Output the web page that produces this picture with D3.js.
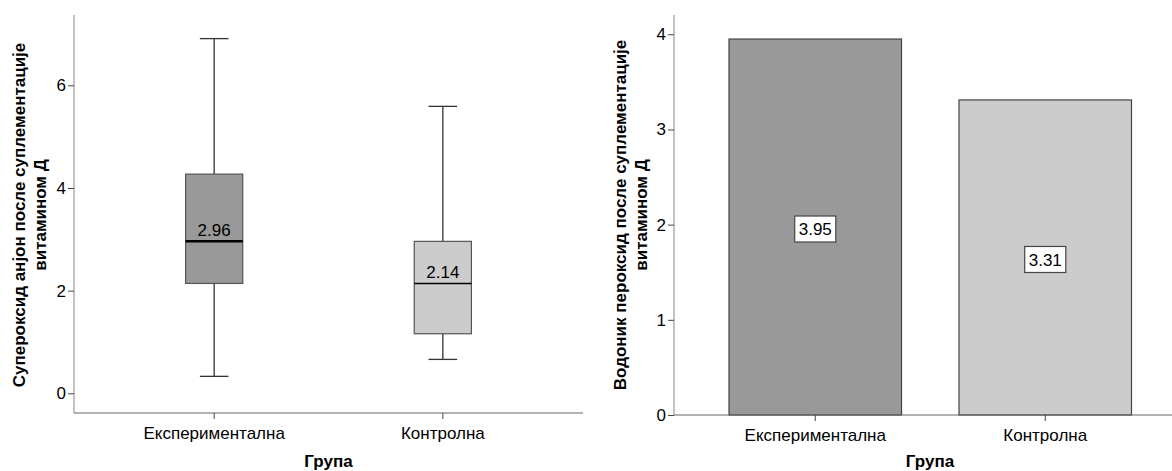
<!DOCTYPE html>
<html>
<head>
<meta charset="utf-8">
<script src="https://cdn.jsdelivr.net/npm/d3@7"></script>
<style>
  html, body { margin: 0; padding: 0; background: #ffffff; }
  svg { display: block; font-family: "Liberation Sans", Arial, sans-serif; }
</style>
</head>
<body>
<svg id="chart" width="1172" height="471"></svg>
<script>
// Groups
const categories = ["Експериментална", "Контролна"];

// Superoxide anion: box-plot five-number summaries per group
const boxMin    = [0.33, 0.66];
const boxQ1     = [2.14, 1.16];
const boxMedian = [2.96, 2.14];
const boxQ3     = [4.27, 2.96];
const boxMax    = [6.91, 5.59];

// Hydrogen peroxide: group means
const barMeans = [3.95, 3.31];

// Tick labels
const leftTicks  = [0, 2, 4, 6];
const rightTicks = [0, 1, 2, 3, 4];

const groupFill = ["#999999", "#cccccc"];

const svg = d3.select("#chart");
const FONT = 17;

function styleAxis(g) {
  g.selectAll(".tick line").attr("stroke", "#444").attr("stroke-width", 1);
  g.selectAll(".tick text").attr("fill", "#000").attr("font-size", FONT)
    .attr("font-family", "Liberation Sans, Arial, sans-serif");
}

function yTitle(x, yMid, lines) {
  const t = svg.append("text")
    .attr("transform", `translate(${x},${yMid}) rotate(-90)`)
    .attr("text-anchor", "middle")
    .attr("font-size", FONT).attr("font-weight", "bold").attr("fill", "#000");
  lines.forEach((s, i) => t.append("tspan").attr("x", 0).attr("dy", i === 0 ? 0 : 21).text(s));
}

// ---------- Left: box plot ----------
const L = { x0: 74, x1: 583, yTop: 15, yBot: 413 };
const xL = d3.scaleBand().domain(categories).range([L.x0, L.x1])
  .paddingInner(0.75).paddingOuter(0.488);
const yL = d3.scaleLinear().domain([-0.384, 7.37]).range([L.yBot, L.yTop]);

const gL = svg.append("g");
// axis lines
gL.append("line").attr("x1", L.x0).attr("x2", L.x0).attr("y1", L.yTop).attr("y2", L.yBot)
  .attr("stroke", "#999").attr("stroke-width", 1.2);
gL.append("line").attr("x1", L.x0).attr("x2", L.x1).attr("y1", L.yBot).attr("y2", L.yBot)
  .attr("stroke", "#666").attr("stroke-width", 1.2);

const axYL = gL.append("g").attr("transform", `translate(${L.x0},0)`)
  .call(d3.axisLeft(yL).tickValues(leftTicks).tickSize(6).tickPadding(2).tickFormat(d3.format("d")));
axYL.select(".domain").remove();
styleAxis(axYL);

const axXL = gL.append("g").attr("transform", `translate(0,${L.yBot})`)
  .call(d3.axisBottom(xL).tickSize(6).tickPadding(8));
axXL.select(".domain").remove();
styleAxis(axXL);

const boxes = gL.selectAll(".box").data(categories).enter().append("g");
boxes.each(function (c, i) {
  const g = d3.select(this);
  const bw = xL.bandwidth();
  const cx = xL(c) + bw / 2;
  const cap = bw / 2;
  // whiskers
  g.append("line").attr("x1", cx).attr("x2", cx).attr("y1", yL(boxMax[i])).attr("y2", yL(boxQ3[i]))
    .attr("stroke", "#333").attr("stroke-width", 1.3);
  g.append("line").attr("x1", cx).attr("x2", cx).attr("y1", yL(boxQ1[i])).attr("y2", yL(boxMin[i]))
    .attr("stroke", "#333").attr("stroke-width", 1.3);
  g.append("line").attr("x1", cx - cap / 2).attr("x2", cx + cap / 2).attr("y1", yL(boxMax[i])).attr("y2", yL(boxMax[i]))
    .attr("stroke", "#333").attr("stroke-width", 1.3);
  g.append("line").attr("x1", cx - cap / 2).attr("x2", cx + cap / 2).attr("y1", yL(boxMin[i])).attr("y2", yL(boxMin[i]))
    .attr("stroke", "#333").attr("stroke-width", 1.3);
  // box
  g.append("rect").attr("x", xL(c)).attr("width", bw)
    .attr("y", yL(boxQ3[i])).attr("height", yL(boxQ1[i]) - yL(boxQ3[i]))
    .attr("fill", groupFill[i]).attr("stroke", "#555").attr("stroke-width", 1.2);
  // median
  g.append("line").attr("x1", xL(c)).attr("x2", xL(c) + bw).attr("y1", yL(boxMedian[i])).attr("y2", yL(boxMedian[i]))
    .attr("stroke", "#000").attr("stroke-width", i === 0 ? 2.5 : 1.6);
  g.append("text").attr("x", cx).attr("y", yL(boxMedian[i]) - 5)
    .attr("text-anchor", "middle").attr("font-size", FONT).attr("fill", "#000")
    .text(d3.format(".2f")(boxMedian[i]));
});

yTitle(25, 215, ["Супероксид анјон после суплементације", "витамином Д"]);
svg.append("text").attr("x", (L.x0 + L.x1) / 2 - 0).attr("y", 467).attr("text-anchor", "middle")
  .attr("font-size", FONT).attr("font-weight", "bold").attr("fill", "#000").text("Група");

// ---------- Right: bar chart ----------
const R = { x0: 674, x1: 1172, yTop: 15, yBot: 415 };
const xR = d3.scaleBand().domain(categories).range([700.25, 1160.25])
  .paddingInner(0.25).paddingOuter(0.125);
const yR = d3.scaleLinear().domain([0, 4.2025]).range([R.yBot, R.yTop]);

const gR = svg.append("g");
gR.selectAll(".bar").data(categories).enter().append("rect")
  .attr("x", d => xR(d)).attr("width", xR.bandwidth())
  .attr("y", (d, i) => yR(barMeans[i])).attr("height", (d, i) => yR(0) - yR(barMeans[i]))
  .attr("fill", (d, i) => groupFill[i]).attr("stroke", "#444").attr("stroke-width", 1.2);

gR.append("line").attr("x1", R.x0).attr("x2", R.x0).attr("y1", R.yTop).attr("y2", R.yBot)
  .attr("stroke", "#999").attr("stroke-width", 1.2);
gR.append("line").attr("x1", R.x0).attr("x2", R.x1).attr("y1", R.yBot).attr("y2", R.yBot)
  .attr("stroke", "#666").attr("stroke-width", 1.2);

const axYR = gR.append("g").attr("transform", `translate(${R.x0},0)`)
  .call(d3.axisLeft(yR).tickValues(rightTicks).tickSize(6).tickPadding(2).tickFormat(d3.format("d")));
axYR.select(".domain").remove();
styleAxis(axYR);

const axXR = gR.append("g").attr("transform", `translate(0,${R.yBot})`)
  .call(d3.axisBottom(xR).tickSize(6).tickPadding(8));
axXR.select(".domain").remove();
styleAxis(axXR);

// value labels in white boxes at mid-height of each bar
gR.selectAll(".lbl").data(categories).enter().append("g").each(function (c, i) {
  const g = d3.select(this);
  const cx = xR(c) + xR.bandwidth() / 2;
  const cy = yR(barMeans[i] / 2) + 2;
  const txt = g.append("text").attr("x", cx).attr("y", cy).attr("dy", "0.36em")
    .attr("text-anchor", "middle").attr("font-size", FONT).attr("fill", "#000")
    .text(d3.format(".2f")(barMeans[i]));
  const w = txt.node().getComputedTextLength() + 8;
  g.insert("rect", "text").attr("x", cx - w / 2).attr("y", cy - 13).attr("width", w).attr("height", 26)
    .attr("fill", "#fff").attr("stroke", "#444").attr("stroke-width", 1.2);
});

yTitle(626, 215, ["Водоник пероксид после суплементације", "витамином Д"]);
svg.append("text").attr("x", 930).attr("y", 467).attr("text-anchor", "middle")
  .attr("font-size", FONT).attr("font-weight", "bold").attr("fill", "#000").text("Група");
</script>
</body>
</html>
